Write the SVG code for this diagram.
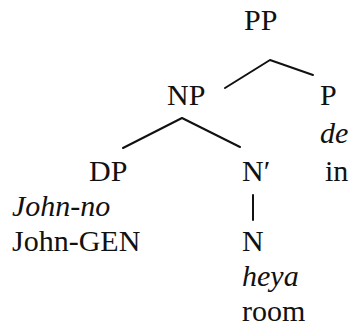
<svg xmlns="http://www.w3.org/2000/svg" width="349" height="334" viewBox="0 0 349 334">
<style>
.t{font-family:"Liberation Serif","DejaVu Serif",serif;font-size:30px;fill:#111}
.i{font-style:italic}
.e{fill:none;stroke:#111;stroke-width:2;stroke-linecap:round;stroke-linejoin:round}
</style>
<rect width="349" height="334" fill="#fff"/>
<g id="connectors">
<polyline class="e" points="225,88 270,60 313,75"/>
<polyline class="e" points="123,148 182,118 240,147"/>
<line class="e" x1="253" y1="195" x2="253" y2="220"/>
</g>
<g id="PP"><text class="t" x="244" y="30">PP</text></g>
<g id="NP"><text class="t" x="167" y="105">NP</text></g>
<g id="P"><text class="t" x="320" y="105">P</text><text class="t i" x="320" y="143">de</text><text class="t" x="325" y="181">in</text></g>
<g id="DP"><text class="t" x="89" y="181">DP</text><text class="t i" x="12" y="216">John-no</text><text class="t" x="12" y="251">John-GEN</text></g>
<g id="Nbar"><text class="t" x="242" y="181">N&#8242;</text></g>
<g id="N"><text class="t" x="242" y="251">N</text><text class="t i" x="242" y="286">heya</text><text class="t" x="242" y="321">room</text></g>
</svg>
